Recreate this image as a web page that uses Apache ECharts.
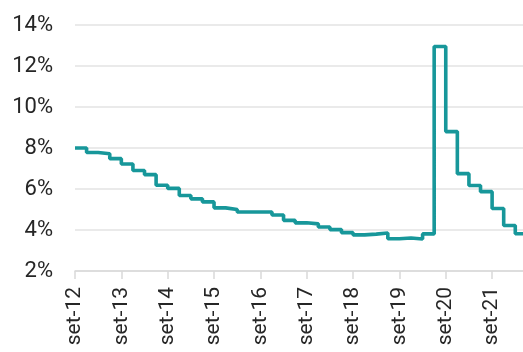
<!DOCTYPE html>
<html>
<head>
<meta charset="utf-8">
<script src="https://cdn.jsdelivr.net/npm/echarts@6/dist/echarts.min.js"></script>
<style>
  html, body { margin: 0; padding: 0; background: #fff; }
  #chart { width: 523px; height: 352px; }
</style>
</head>
<body>
<div id="chart"></div>
<script>
// Quarter start dates (step changes) and rate values (%)
const periods = [
  '2012-09', '2012-12',
  '2013-03', '2013-06', '2013-09', '2013-12',
  '2014-03', '2014-06', '2014-09', '2014-12',
  '2015-03', '2015-06', '2015-09', '2015-12',
  '2016-03', '2016-06', '2016-09', '2016-12',
  '2017-03', '2017-06', '2017-09', '2017-12',
  '2018-03', '2018-06', '2018-09', '2018-12',
  '2019-03', '2019-06', '2019-09', '2019-12',
  '2020-03', '2020-06', '2020-09', '2020-12',
  '2021-03', '2021-06', '2021-09', '2021-12',
  '2022-03'
];
const values = [
  8.00, 7.78, 7.72, 7.48, 7.22, 6.90, 6.70, 6.18, 6.03, 5.68,
  5.52, 5.37, 5.08, 5.00, 4.88, 4.88, 4.88, 4.73, 4.47, 4.35,
  4.30, 4.15, 4.02, 3.87, 3.76, 3.80, 3.85, 3.57, 3.61, 3.56,
  3.81, 12.95, 8.80, 6.75, 6.17, 5.87, 5.05, 4.22, 3.82
];
const axisStart = '2012-09';
const axisEnd = '2022-05';
const tickDates = ['2012-09','2013-09','2014-09','2015-09','2016-09','2017-09','2018-09','2019-09','2020-09','2021-09'];
const tickLabels = ['set-12','set-13','set-14','set-15','set-16','set-17','set-18','set-19','set-20','set-21'];
const yTicks = [2, 4, 6, 8, 10, 12, 14];

function monthIndex(s) {
  const [y, m] = s.split('-').map(Number);
  const [y0, m0] = axisStart.split('-').map(Number);
  return (y - y0) * 12 + (m - m0);
}
const tickPos = tickDates.map(monthIndex);
const labelMap = {};
tickPos.forEach((p, i) => { labelMap[p] = tickLabels[i]; });

const seriesData = periods.map((p, i) => [monthIndex(p), values[i]]);
seriesData.push([monthIndex(axisEnd), values[values.length - 1]]);

const chart = echarts.init(document.getElementById('chart'), null, { renderer: 'canvas' });
chart.setOption({
  animation: false,
  backgroundColor: '#ffffff',
  textStyle: { fontFamily: 'Roboto' },
  grid: { left: 75, right: 0, top: 25, bottom: 81, containLabel: false },
  xAxis: {
    type: 'value',
    min: 0,
    max: monthIndex(axisEnd),
    interval: 12,
    splitLine: { show: false },
    axisLine: { show: true, lineStyle: { color: '#d9d9d9', width: 1.5 } },
    axisTick: { show: true, length: 8, customValues: tickPos, lineStyle: { color: '#d9d9d9', width: 1.5 } },
    axisLabel: {
      customValues: tickPos,
      rotate: 90,
      margin: 16,
      fontSize: 21,
      color: '#262626',
      fontFamily: 'Roboto',
      formatter: v => labelMap[v] || ''
    }
  },
  yAxis: {
    type: 'value',
    min: yTicks[0],
    max: yTicks[yTicks.length - 1],
    interval: 2,
    axisLine: { show: false },
    axisTick: { show: false },
    splitLine: { show: true, lineStyle: { color: '#e3e3e3', width: 1.5 } },
    axisLabel: {
      margin: 22,
      fontSize: 22,
      color: '#262626',
      fontFamily: 'Roboto',
      formatter: v => v + '%'
    }
  },
  series: [{
    type: 'line',
    step: 'end',
    data: seriesData,
    showSymbol: false,
    symbol: 'none',
    lineStyle: { color: '#17979a', width: 3.6 },
    clip: false
  }]
});
</script>
</body>
</html>
